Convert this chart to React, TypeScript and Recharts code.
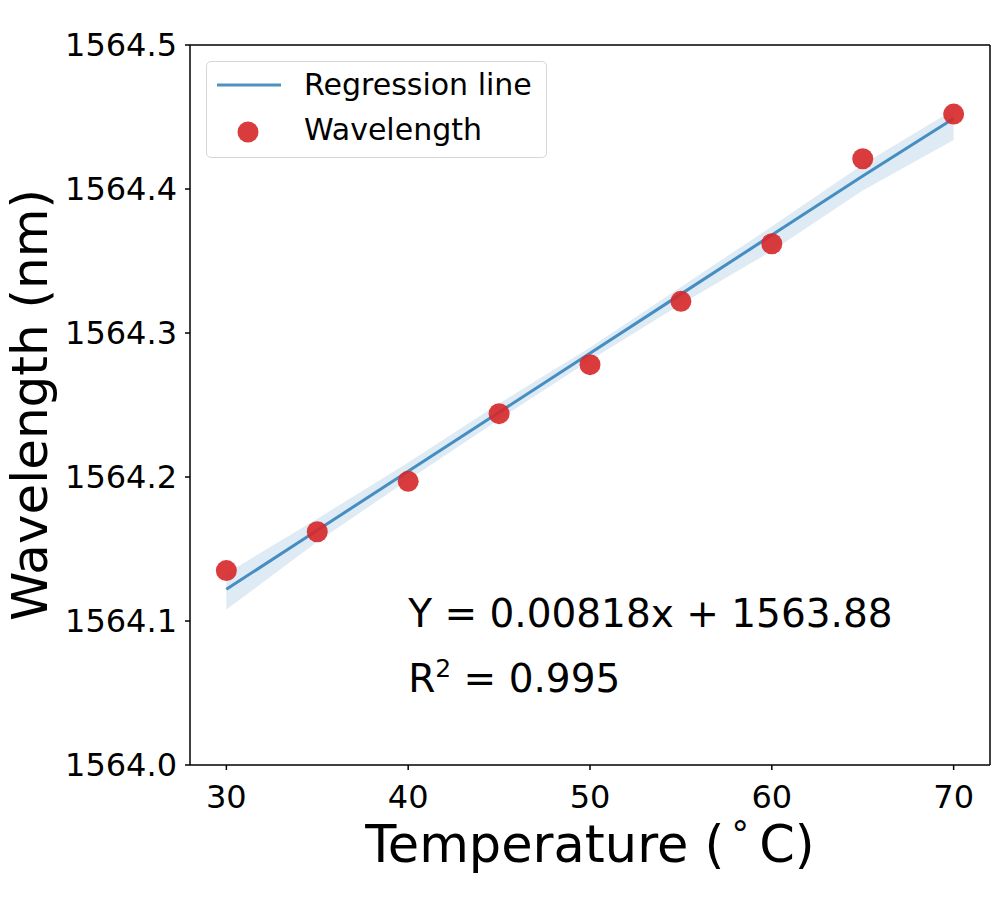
import React from "react";
import {
  Area,
  ComposedChart,
  Legend,
  Line,
  ReferenceDot,
  ReferenceLine,
  Scatter,
  XAxis,
  YAxis,
} from "recharts";

// values
const temperatures = [30, 35, 40, 45, 50, 55, 60, 65, 70];
const wavelengths = [1564.135, 1564.162, 1564.197, 1564.244, 1564.278, 1564.322, 1564.362, 1564.421, 1564.452];
const regression = [1564.122, 1564.163, 1564.204, 1564.245, 1564.286, 1564.327, 1564.368, 1564.409, 1564.449];
const bandLow = [1564.108, 1564.155, 1564.198, 1564.24, 1564.281, 1564.32, 1564.357, 1564.399, 1564.434];
const bandHigh = [1564.133, 1564.171, 1564.21, 1564.251, 1564.29, 1564.332, 1564.374, 1564.417, 1564.455];

const xTicks = [30, 40, 50, 60, 70];
const yTicks = [1564.0, 1564.1, 1564.2, 1564.3, 1564.4, 1564.5];

const equationText = "Y = 0.00818x + 1563.88";
const r2Text = " = 0.995";

const rows = temperatures.map((t, i) => ({
  temp: t,
  wave: wavelengths[i],
  fit: regression[i],
  band: [bandLow[i], bandHigh[i]],
}));

const BLUE = "#1f77b4";
const RED = "#d62728";

function XLabel({ viewBox }: any) {
  const { x, y, width } = viewBox;
  return (
    <text x={x + width / 2} y={y + 97} textAnchor="middle" fontSize={51} fill="#000">
      Temperature (
      <tspan fontSize={35} dy={-16}>
        {"\u2009°"}
      </tspan>
      <tspan dy={16}>{"\u2009"}C)</tspan>
    </text>
  );
}

function YLabel({ viewBox }: any) {
  const { y, height } = viewBox;
  const cy = y + height / 2;
  return (
    <text x={47} y={cy} transform={`rotate(-90 47 ${cy})`} textAnchor="middle" fontSize={50} fill="#000">
      Wavelength (nm)
    </text>
  );
}

function Annotation({ viewBox }: any) {
  const x = viewBox.x;
  const y = viewBox.y + 6;
  return (
    <g fill="#000" fontSize={39}>
      <text x={x} y={y}>
        {equationText}
      </text>
      <text x={x} y={y + 65}>
        R
        <tspan fontSize={25} dy={-15}>
          2
        </tspan>
        <tspan dy={15}>{r2Text}</tspan>
      </text>
    </g>
  );
}

function LegendBox() {
  return (
    <div
      style={{
        width: 341,
        height: 97,
        boxSizing: "border-box",
        border: "1px solid #d6d6d6",
        borderRadius: 5,
        background: "rgba(255,255,255,0.8)",
      }}
    >
      <svg width={341} height={97} style={{ position: "absolute", left: 0, top: 0 }}>
        <line x1={11} x2={75} y1={24} y2={24} stroke={BLUE} strokeOpacity={0.8} strokeWidth={3} />
        <circle cx={42} cy={71} r={10.5} fill={RED} fillOpacity={0.9} />
        <text x={98} y={34} fontSize={30} fill="#000">
          Regression line
        </text>
        <text x={98} y={79} fontSize={30} fill="#000">
          Wavelength
        </text>
      </svg>
    </div>
  );
}

export default function App() {
  return (
    <div
      style={{
        position: "absolute",
        left: 0,
        top: 0,
        width: 1000,
        height: 900,
        background: "#fff",
        fontFamily: "'DejaVu Sans', sans-serif",
      }}
    >
      <ComposedChart width={1000} height={900} data={rows} margin={{ top: 45, right: 10, left: 0, bottom: 0 }}>
        <XAxis
          dataKey="temp"
          type="number"
          domain={[28, 72]}
          ticks={xTicks}
          height={135}
          tickSize={5}
          tickMargin={15}
          stroke="#000"
          strokeWidth={1.5}
          tick={{ fill: "#000", fontSize: 32 }}
          label={<XLabel />}
        />
        <YAxis
          type="number"
          domain={[1564.0, 1564.5]}
          ticks={yTicks}
          width={190}
          tickSize={5}
          tickMargin={8}
          stroke="#000"
          strokeWidth={1.5}
          tick={{ fill: "#000", fontSize: 32 }}
          tickFormatter={(v: number) => v.toFixed(1)}
          label={<YLabel />}
        />
        <ReferenceLine y={1564.5} stroke="#000" strokeWidth={1.5} />
        <ReferenceLine x={72} stroke="#000" strokeWidth={1.5} />
        <Area
          dataKey="band"
          type="linear"
          stroke="none"
          fill={BLUE}
          fillOpacity={0.15}
          activeDot={false}
          isAnimationActive={false}
          legendType="none"
        />
        <Line
          dataKey="fit"
          type="linear"
          stroke={BLUE}
          strokeOpacity={0.8}
          strokeWidth={3}
          dot={false}
          activeDot={false}
          isAnimationActive={false}
          name="Regression line"
        />
        <Scatter
          dataKey="wave"
          name="Wavelength"
          isAnimationActive={false}
          shape={(p: any) => <circle cx={p.cx} cy={p.cy} r={10.5} fill={RED} fillOpacity={0.9} />}
        />
        <ReferenceDot x={40} y={1564.1} r={0} fill="none" stroke="none" label={<Annotation />} />
        <Legend
          layout="horizontal"
          verticalAlign="middle"
          align="center"
          content={() => <LegendBox />}
          wrapperStyle={{ left: 206, top: 61, width: 341, height: 97 }}
        />
      </ComposedChart>
    </div>
  );
}
